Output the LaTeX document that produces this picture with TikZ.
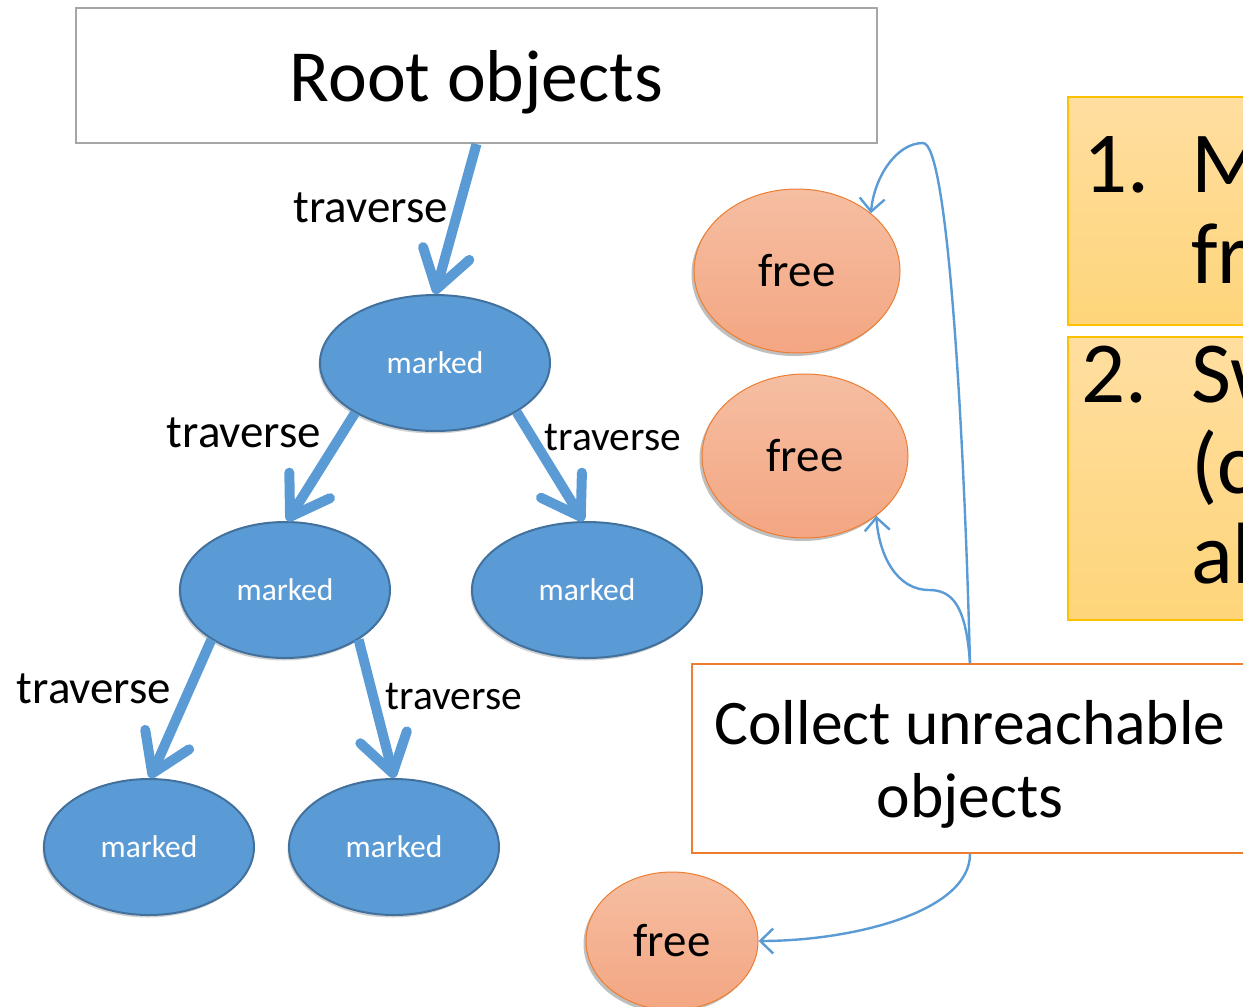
\documentclass[tikz,border=0pt]{standalone}
\usepackage{fontspec}
\setmainfont{Carlito}
\usetikzlibrary{arrows.meta,shapes.geometric,shadows}

\definecolor{nodeblue}{RGB}{91,155,213}
\definecolor{nodeedge}{RGB}{65,113,156}
\definecolor{freeedge}{RGB}{237,125,49}
\definecolor{freetop}{RGB}{245,190,162}
\definecolor{freebot}{RGB}{244,166,130}
\definecolor{rootedge}{RGB}{166,166,166}
\definecolor{steptop}{RGB}{255,222,160}
\definecolor{stepbot}{RGB}{254,213,122}
\definecolor{stepedge}{RGB}{255,192,0}

\tikzset{
  marknode/.style={ellipse, draw=nodeedge, line width=2pt, fill=nodeblue,
    text=white, inner sep=0pt, font=\fontsize{31.5}{37}\selectfont,
    minimum width=#1, minimum height=136pt,
    drop shadow={shadow xshift=-1.5pt, shadow yshift=-2.5pt, fill=black, opacity=0.18}},
  marknode/.default=210pt,
  freenode/.style={ellipse, draw=freeedge, line width=1pt,
    top color=freetop, bottom color=freebot,
    inner sep=0pt, font=\fontsize{47}{55}\selectfont,
    drop shadow={shadow xshift=-2.5pt, shadow yshift=-3pt, fill=black, opacity=0.25}},
  stepbox/.style={rectangle, draw=stepedge, line width=1.5pt,
    top color=steptop, bottom color=stepbot, inner sep=0pt},
  steptext/.style={anchor=base west, inner sep=0pt, font=\fontsize{87}{90}\selectfont},
  trav/.style={draw=nodeblue, line width=10pt,
    -{Straight Barb[length=37pt, width=48pt, round]}},
  link/.style={draw=nodeblue, line width=2.4pt,
    -{Straight Barb[length=13pt, width=25pt]}},
  lblbig/.style={anchor=base, inner sep=0pt, font=\fontsize{47}{55}\selectfont},
  lblsmall/.style={anchor=base, inner sep=0pt, font=\fontsize{41.5}{49}\selectfont},
}

\begin{document}
\begin{tikzpicture}[x=1pt, y=-1pt]
  \useasboundingbox (0,0) rectangle (1243,1007);
  \clip (0,0) rectangle (1243,1007);

  % root set
  \node[rectangle, draw=rootedge, line width=2pt, fill=white,
        minimum width=801pt, minimum height=135pt, text depth=0pt,
        font=\fontsize{73.5}{88}\selectfont] (root) at (476.5,75.5) {Root objects};

  % reachable objects
  \node[marknode=230pt] (m1) at (435,363) {marked};
  \node[marknode] (m2) at (285,590) {marked};
  \node[marknode=230pt] (m3) at (587,590) {marked};
  \node[marknode] (m4) at (149,847) {marked};
  \node[marknode] (m5) at (394,847) {marked};

  % traversal edges
  \draw[trav] (root.south) -- (m1.north);
  \draw[trav] (m1.212) -- (m2.88);
  \draw[trav] (m1.329) -- (m3.93);
  \draw[trav] (m2.214) -- (m4.89);
  \draw[trav] (m2.326) -- (m5.90);

  \node[lblbig] (t0) at (370.5,222) {traverse};
  \node[lblbig] (t1) at (244,447) {traverse};
  \node[lblsmall] (t2) at (613,450) {traverse};
  \node[lblbig] (t3) at (94,703) {traverse};
  \node[lblsmall] (t4) at (454,709) {traverse};

  % unreachable objects
  \node[freenode, minimum width=206pt, minimum height=164pt] (f1) at (797,271) {free};
  \node[freenode, minimum width=206pt, minimum height=164pt] (f2) at (805,456) {free};
  \node[freenode, minimum width=172pt, minimum height=138pt] (f3) at (672,941) {free};

  % collector
  \node[rectangle, draw=freeedge, line width=2pt, fill=white,
        minimum width=556pt, minimum height=189pt, align=center, text depth=0pt,
        font=\fontsize{63.5}{73}\selectfont] (collect) at (970,758.5)
        {Collect unreachable\\objects};

  \draw[link] (collect.north) .. controls (964,430) and (948,143) .. (923,143)
              .. controls (896,143) and (874,178) .. (f1.38);
  \draw[link] (collect.north) .. controls (966,605) and (952,590) .. (929,590)
              .. controls (897,590) and (879,556) .. (f2.320);
  \draw[link] (collect.south) .. controls (970,912) and (852,941) .. (f3.east);

  % algorithm steps
  \node[stepbox, minimum width=200pt, minimum height=228pt] (s1) at (1168,211) {};
  \node[stepbox, minimum width=200pt, minimum height=283pt] (s2) at (1168,478.5) {};
  \node[steptext] (s1a) at (1083,192) {1.};
  \node[steptext] (s1b) at (1191,192) {M};
  \node[steptext] (s1c) at (1191,283) {fr};
  \node[steptext] (s2a) at (1081,402) {2.};
  \node[steptext] (s2b) at (1191,402) {Sw};
  \node[steptext] (s2c) at (1191,493) {(c};
  \node[steptext] (s2d) at (1191,583) {al};
\end{tikzpicture}
\end{document}
